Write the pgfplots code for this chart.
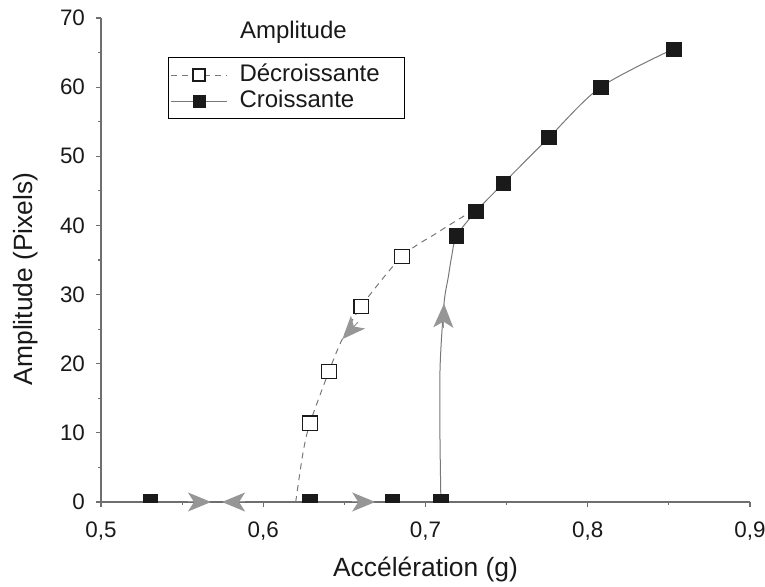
\documentclass[border=0pt]{standalone}
\usepackage{pgfplots}
\pgfplotsset{compat=1.18}
\usepackage{fontspec}
\setmainfont{Liberation Sans}
\usetikzlibrary{arrows.meta}
\definecolor{curvegray}{RGB}{120,120,120}
\definecolor{arrowgray}{RGB}{150,150,150}
\definecolor{markblack}{RGB}{26,26,26}
\definecolor{axisgray}{RGB}{110,110,110}
\pgfdeclareplotmark{halfsquare*}{%
  \pgfpathrectangle{\pgfqpoint{-\pgfplotmarksize}{0pt}}{\pgfqpoint{2\pgfplotmarksize}{\pgfplotmarksize}}%
  \pgfusepathqfillstroke}
\begin{document}
\begin{tikzpicture}
\begin{axis}[
  at={(0pt,0pt)}, anchor=south west,
  scale only axis, width=324.5pt, height=242pt,
  xmin=0.5, xmax=0.9, ymin=0, ymax=70,
  axis lines=left,
  axis line style={-, axisgray, line width=0.6pt},
  clip=false,
  scaled ticks=false,
  xtick={0.5,0.6,0.7,0.8,0.9},
  ytick={0,10,20,30,40,50,60,70},
  minor x tick num=1, minor y tick num=1,
  tick align=outside,
  major tick length=2.5pt, minor tick length=1.5pt,
  tick style={axisgray, line width=0.6pt},
  /pgf/number format/assume math mode=true,
  xticklabel style={font=\fontsize{11.2}{13}\selectfont, text=black!90, yshift=-4pt,
    /pgf/number format/.cd, fixed, fixed zerofill, precision=1, use comma},
  yticklabel style={font=\fontsize{11.2}{13}\selectfont, text=black!90, xshift=-2pt},
  xlabel={Accélération (g)},
  ylabel={Amplitude (Pixels)},
  every axis x label/.style={at={(axis description cs:0.5,-0.1545)}, anchor=base,
    font=\fontsize{13.2}{15}\selectfont, text=black!90},
  every axis y label/.style={at={(axis description cs:-0.1048,0.461)}, anchor=base, rotate=90,
    font=\fontsize{13.2}{15}\selectfont, text=black!90},
  legend style={at={(axis description cs:0.1032,0.919)}, anchor=north west,
    draw=black, line width=0.6pt, fill=white,
    font=\fontsize{12}{14}\selectfont, text=black!90,
    inner xsep=1pt, inner ysep=2pt,
    nodes={inner sep=1pt, text height=8.6pt, text depth=2.6pt},
    cells={anchor=west},
    /tikz/every odd column/.append style={column sep=5pt}},
  legend image code/.code={\draw[mark repeat=2,mark phase=2,#1] plot coordinates {(0pt,0pt) (14pt,0pt) (28pt,0pt)};},
]
\addlegendimage{curvegray, line width=0.5pt, dash pattern=on 3pt off 2.5pt, mark=square*, mark size=3pt, mark options={solid, fill=white, draw=markblack, line width=0.6pt}}
\addlegendentry{Décroissante\hspace*{10.5pt}}
\addlegendimage{curvegray, line width=0.5pt, mark=square*, mark size=3pt, mark options={fill=markblack, draw=markblack}}
\addlegendentry{Croissante}

% decreasing branch (dashed)
\addplot[forget plot, curvegray, line width=0.5pt, dash pattern=on 3pt off 2.5pt, smooth, tension=0.5] coordinates {
 (0.6200,0) (0.6245,7.1) (0.6288,11.4) (0.6405,18.9) (0.6488,23.6) (0.6604,28.3)
 (0.6855,35.5) (0.7069,38.9) (0.7233,41.3) (0.7330,42.6)};
% increasing branch (solid)
\addplot[forget plot, curvegray, line width=0.5pt, smooth, tension=0.5] coordinates {
 (0.7095,0) (0.7089,10) (0.7090,19.6) (0.7114,28.7) (0.7141,32.6) (0.7161,35.5)
 (0.7192,38.5) (0.7310,42.0) (0.7480,46.1) (0.7760,52.7) (0.8080,60.0) (0.8535,65.6)};

% arrows
\addplot[forget plot, arrowgray, line width=0.5pt, -{Stealth[length=11.5pt,width=9.5pt,inset=3pt]}] coordinates {(0.5536,0) (0.5678,0)};
\addplot[forget plot, arrowgray, line width=0.5pt, -{Stealth[length=11.5pt,width=9.5pt,inset=3pt]}] coordinates {(0.5888,0) (0.5746,0)};
\addplot[forget plot, arrowgray, line width=0.5pt, -{Stealth[length=11.5pt,width=9.5pt,inset=3pt]}] coordinates {(0.6550,0) (0.6690,0)};
\addplot[forget plot, arrowgray, line width=0.5pt, -{Stealth[length=12pt,width=10pt,inset=3pt]}] coordinates {(0.7110,25.2) (0.7114,28.7)};
\addplot[forget plot, arrowgray, line width=0.5pt, -{Stealth[length=11.5pt,width=9.5pt,inset=3pt]}] coordinates {(0.6583,26.0) (0.6488,23.56)};

% open squares
\addplot[forget plot, only marks, mark=square*, mark size=3.6pt, mark options={fill=white, draw=markblack, line width=0.6pt}] coordinates {
 (0.6288,11.4) (0.6405,18.9) (0.6604,28.3) (0.6855,35.5)};
% filled squares
\addplot[forget plot, only marks, mark=square*, mark size=3.6pt, mark options={fill=markblack, draw=markblack}] coordinates {
 (0.7192,38.5) (0.7310,42.0) (0.7480,46.1) (0.7760,52.7) (0.8080,60.0) (0.8530,65.5)};
\addplot[forget plot, only marks, mark=halfsquare*, mark size=3.6pt, mark options={fill=markblack, draw=markblack}] coordinates {
 (0.5306,0) (0.6288,0) (0.6796,0) (0.7095,0)};

\node[anchor=base, font=\fontsize{12}{14}\selectfont, text=black!90] at (axis description cs:0.2964,0.958) {Amplitude};
\end{axis}
\pgfresetboundingbox
\useasboundingbox (-50.5pt,-42.5pt) rectangle (332pt,251pt);
\end{tikzpicture}
\end{document}
